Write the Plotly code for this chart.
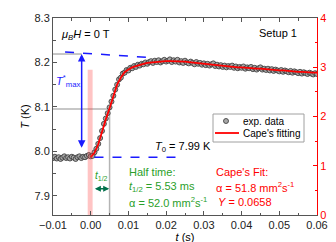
import plotly.graph_objects as go

# ---------------- data ----------------
t_start = -0.01
t_step = 0.0005
T_data = [
    7.985, 7.988, 7.984, 7.987, 7.983, 7.986, 7.989, 7.985, 7.987, 7.984,
    7.988, 7.986, 7.983, 7.987, 7.989, 7.985, 7.988, 7.987, 7.990, 7.992,
    7.989, 7.990, 7.998, 8.006, 8.017, 8.030, 8.046, 8.062, 8.074, 8.086,
    8.099, 8.112, 8.125, 8.139, 8.150, 8.162, 8.166, 8.175, 8.177, 8.183,
    8.182, 8.188, 8.187, 8.192, 8.190, 8.195, 8.193, 8.197, 8.196, 8.200,
    8.197, 8.201, 8.203, 8.199, 8.204, 8.201, 8.205, 8.200, 8.203, 8.206,
    8.202, 8.204, 8.207, 8.201, 8.205, 8.202, 8.206, 8.200, 8.203, 8.199,
    8.204, 8.200, 8.198, 8.202, 8.199, 8.196, 8.201, 8.197, 8.199, 8.195,
    8.198, 8.194, 8.197, 8.193, 8.196, 8.198, 8.192, 8.195, 8.191, 8.194,
    8.190, 8.193, 8.189, 8.192, 8.190, 8.193, 8.188, 8.191, 8.187, 8.190,
    8.188, 8.191, 8.186, 8.189, 8.187, 8.190, 8.185, 8.188, 8.184, 8.187,
    8.189, 8.184, 8.186, 8.183, 8.186, 8.182, 8.185, 8.181, 8.184, 8.182,
    8.180, 8.183, 8.179, 8.182, 8.180, 8.178, 8.181, 8.177, 8.180, 8.178,
    8.176, 8.179, 8.175, 8.178, 8.176, 8.174, 8.177, 8.175, 8.173, 8.176,
    8.174,
]
t_data = [round(t_start + t_step * i, 4) for i in range(len(T_data))]

fit_step = 0.001
T_fit = [
    7.987, 7.997, 8.016, 8.047, 8.072, 8.097, 8.123, 8.150, 8.166, 8.178,
    8.184, 8.189, 8.192, 8.195, 8.197, 8.199, 8.200, 8.201, 8.202, 8.202,
    8.203, 8.203, 8.203, 8.203, 8.202, 8.202, 8.201, 8.200, 8.199, 8.198,
    8.197, 8.196, 8.195, 8.194, 8.193, 8.192, 8.191, 8.191, 8.190, 8.189,
    8.189, 8.188, 8.188, 8.187, 8.186, 8.186, 8.185, 8.184, 8.184, 8.183,
    8.182, 8.182, 8.181, 8.181, 8.180, 8.179, 8.179, 8.178, 8.178, 8.177,
    8.177,
]
t_fit = [round(fit_step * i, 4) for i in range(len(T_fit))]

# heat pulse (right axis)
pulse_t = [-0.00015]
pulse_width = [0.0013]
pulse_P = [2.95]

legend_labels = ["exp. data", "Cape's fitting"]

# reference values used by the guides
T0 = 7.987
T_half = 8.0955
t_half = 0.0050
T_max_level = 8.219
t_arrow = -0.0024
extrap_t = [-0.0068, 0.0168]
extrap_T = [8.2235, 8.2105]
base_t = [0.0010, 0.0245]

FONT = "Arial, Liberation Sans, sans-serif"
RED = "#ff0000"
BLUE = "#1a1aff"
GREEN = "#2aa02a"
DGREEN = "#00704a"
GRAY = "#b4b4b4"
MK_FILL = "#a8a8a8"
MK_EDGE = "#333333"

fig = go.Figure()

fig.add_trace(go.Bar(
    x=pulse_t, y=pulse_P, width=pulse_width, yaxis="y2",
    marker=dict(color="rgba(255,60,60,0.30)", line=dict(width=0)),
    showlegend=False, hoverinfo="skip",
))

fig.add_trace(go.Scatter(
    x=t_data, y=T_data, mode="markers", name=legend_labels[0], showlegend=False,
    marker=dict(symbol="circle", size=5, color=MK_FILL,
                line=dict(color=MK_EDGE, width=0.8)),
))
fig.add_trace(go.Scatter(
    x=t_fit, y=T_fit, mode="lines", name=legend_labels[1], showlegend=False,
    line=dict(color=RED, width=1.8),
))

shapes = [
    # gray guide lines
    dict(type="line", xref="x", yref="y", x0=-0.01, x1=t_half, y0=T_half, y1=T_half,
         line=dict(color=GRAY, width=1.5), layer="below"),
    dict(type="line", xref="x", yref="y", x0=t_half, x1=t_half, y0=7.857, y1=T_half,
         line=dict(color=GRAY, width=1.5), layer="below"),
    dict(type="line", xref="x", yref="y", x0=-0.01, x1=t_arrow, y0=T_max_level, y1=T_max_level,
         line=dict(color=GRAY, width=1.5), layer="below"),
    # blue dashed lines
    dict(type="line", xref="x", yref="y", x0=extrap_t[0], x1=extrap_t[1],
         y0=extrap_T[0], y1=extrap_T[1], line=dict(color=BLUE, width=1.5, dash="dash")),
    dict(type="line", xref="x", yref="y", x0=base_t[0], x1=base_t[1], y0=T0, y1=T0,
         line=dict(color=BLUE, width=1.5, dash="dash")),
]

# compact legend box (paper coordinates)
PW, PH, L = 264.0, 197.0, 45.0
def px(xp):
    return (xp - L) / PW
def py(yp):
    return (207.0 - yp) / PH

shapes.append(dict(type="rect", xref="paper", yref="paper",
                   x0=px(205), x1=px(296), y0=py(134), y1=py(106),
                   fillcolor="white", line=dict(color="#a0a0a0", width=1)))
shapes.append(dict(type="circle", xref="paper", yref="paper",
                   x0=px(215.5), x1=px(220.5), y0=py(115.5), y1=py(110.5),
                   fillcolor=MK_FILL, line=dict(color=MK_EDGE, width=0.8)))
shapes.append(dict(type="line", xref="paper", yref="paper",
                   x0=px(207), x1=px(231), y0=py(125), y1=py(125),
                   line=dict(color=RED, width=1.8)))

ann = []
for lab, yy in zip(legend_labels, [113, 125]):
    ann.append(dict(x=px(233), y=py(yy), xref="paper", yref="paper", text=lab,
                    showarrow=False, xanchor="left", yanchor="middle",
                    font=dict(family=FONT, size=10, color="#000000")))

# right-axis title
ann.append(dict(x=px(326), y=0.5, xref="paper", yref="paper", text="<i>P</i> (mW)",
                showarrow=False, textangle=-90, xanchor="center", yanchor="middle",
                font=dict(family=FONT, size=11, color=RED)))

# blue double arrow (T*max)
ann.append(dict(x=t_arrow, y=T_max_level, ax=t_arrow, ay=8.005, xref="x", yref="y",
                axref="x", ayref="y", showarrow=True, arrowhead=2, arrowside="end+start",
                arrowsize=1, arrowwidth=1.5, arrowcolor=BLUE, text=""))
# green double arrow (t1/2)
ann.append(dict(x=0.0049, y=7.916, ax=0.0007, ay=7.916, xref="x", yref="y",
                axref="x", ayref="y", showarrow=True, arrowhead=2, arrowside="end+start",
                arrowsize=0.8, arrowwidth=1.5, arrowcolor=DGREEN, text=""))


def txt(x, y, s, color="#000000", xanchor="left", size=11):
    ann.append(dict(x=x, y=y, xref="x", yref="y", text=s, showarrow=False,
                    xanchor=xanchor, yanchor="middle",
                    font=dict(family=FONT, size=size, color=color)))


txt(-0.0083, 8.262, "<i>μ</i><sub><i>B</i></sub><i>H</i> = 0 T")
txt(0.0551, 8.266, "Setup 1", xanchor="right")
txt(-0.0061, 8.158, "<i>T</i><sup>*</sup><sub>max</sub>", color=BLUE, xanchor="center")
txt(0.0164, 8.010, "<i>T</i><sub>0</sub> = 7.99 K")
txt(0.0029, 7.944, "<i>t</i><sub>1/2</sub>", color=GREEN, xanchor="center", size=10)
txt(0.0097, 7.954, "Half time:", color=GREEN)
txt(0.0097, 7.921, "<i>t</i><sub>1/2</sub> = 5.53 ms", color=GREEN)
txt(0.0097, 7.887, "α = 52.0 mm<sup>2</sup>s<sup>-1</sup>", color=GREEN)
txt(0.0328, 7.954, "Cape's Fit:", color=RED)
txt(0.0328, 7.920, "α = 51.8 mm<sup>2</sup>s<sup>-1</sup>", color=RED)
txt(0.0331, 7.887, "<i>Y</i> = 0.0658", color=RED)

fig.update_layout(
    width=336, height=242,
    margin=dict(l=45, r=27, t=10, b=35),
    paper_bgcolor="white", plot_bgcolor="white",
    font=dict(family=FONT, size=11, color="#222222"),
    shapes=shapes, annotations=ann,
    barmode="overlay",
    showlegend=False,
    xaxis=dict(range=[-0.01, 0.06], dtick=0.01, tick0=0, tickformat=".2f",
               showgrid=False, zeroline=False, showline=True, linecolor="#555555",
               linewidth=1, mirror="ticks", ticks="inside", ticklen=4,
               tickcolor="#555555",
               minor=dict(dtick=0.005, ticks="inside", ticklen=2.5, tickcolor="#555555"),
               title=dict(text="<i>t</i> (s)", standoff=0,
                          font=dict(family=FONT, size=11, color="#000000")),
               automargin=False),
    yaxis=dict(range=[7.857, 8.3], dtick=0.1, tick0=8.0, tickformat=".1f",
               showgrid=False, zeroline=False, showline=True, linecolor="#555555",
               linewidth=1, ticks="inside", ticklen=4, tickcolor="#555555",
               minor=dict(dtick=0.05, ticks="inside", ticklen=2.5, tickcolor="#555555"),
               title=dict(text="<i>T</i> (K)", standoff=2,
                          font=dict(family=FONT, size=11, color="#000000")),
               automargin=False),
    yaxis2=dict(range=[0, 4], dtick=1, overlaying="y", side="right",
                showgrid=False, zeroline=False, showline=True, linecolor=RED,
                linewidth=1, ticks="inside", ticklen=4, tickcolor=RED,
                tickfont=dict(color=RED, size=11, family=FONT),
                minor=dict(dtick=0.5, ticks="inside", ticklen=2.5, tickcolor=RED),
                automargin=False),
)

fig.write_html("out.html")
